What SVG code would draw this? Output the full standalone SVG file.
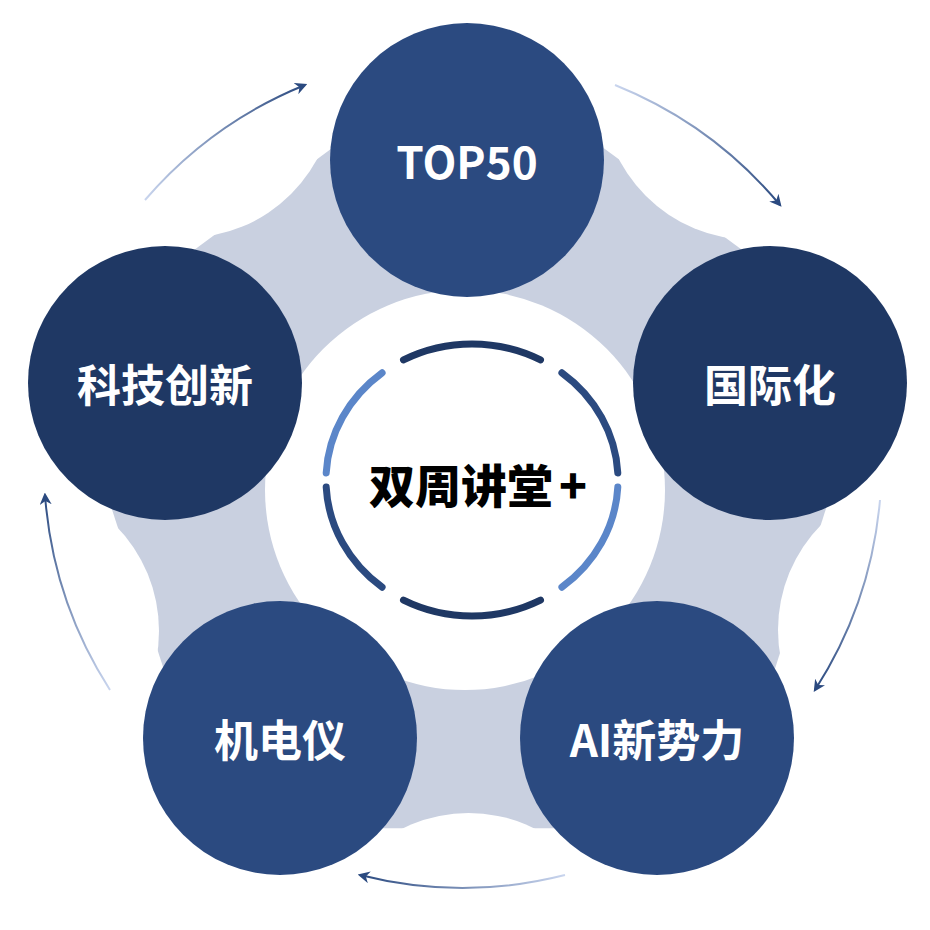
<svg xmlns="http://www.w3.org/2000/svg" width="930" height="930" viewBox="0 0 930 930">
<style>
.nt{font-family:"Noto Sans CJK SC","Liberation Sans",sans-serif;font-weight:bold;font-size:44px;fill:#fff;text-anchor:middle;dominant-baseline:central}
.arc{fill:none;stroke-width:2;marker-end:url(#ah)}
.seg{fill:none;stroke-width:7;stroke-linecap:round}
</style>
<defs>
<marker id="ah" viewBox="0 0 10 10" refX="8" refY="5" markerWidth="6" markerHeight="6" orient="auto" markerUnits="strokeWidth"><path d="M0,0 L10,5 L0,10 L3,5 Z" fill="#2b4a80"/></marker>
<linearGradient id="g1" gradientUnits="userSpaceOnUse" x1="145" y1="200" x2="305" y2="85"><stop offset="0" stop-color="#c9d5ee"/><stop offset="1" stop-color="#2b4a80"/></linearGradient>
<linearGradient id="g2" gradientUnits="userSpaceOnUse" x1="615" y1="85" x2="780" y2="205"><stop offset="0" stop-color="#c9d5ee"/><stop offset="1" stop-color="#2b4a80"/></linearGradient>
<linearGradient id="g3" gradientUnits="userSpaceOnUse" x1="880" y1="500" x2="815" y2="690"><stop offset="0" stop-color="#c9d5ee"/><stop offset="1" stop-color="#2b4a80"/></linearGradient>
<linearGradient id="g4" gradientUnits="userSpaceOnUse" x1="565" y1="875" x2="360" y2="875"><stop offset="0" stop-color="#c9d5ee"/><stop offset="1" stop-color="#2b4a80"/></linearGradient>
<linearGradient id="g5" gradientUnits="userSpaceOnUse" x1="110" y1="690" x2="45" y2="495"><stop offset="0" stop-color="#c9d5ee"/><stop offset="1" stop-color="#2b4a80"/></linearGradient>
</defs>
<rect width="930" height="930" fill="#fff"/>
<g id="background">
<polygon points="467.7,48 876.8,349 724.2,828.3 215.3,828.3 60,349" fill="#c9d0e0"/>
<circle cx="752" cy="90" r="150" fill="#fff"/>
<circle cx="928" cy="630" r="150" fill="#fff"/>
<circle cx="468.5" cy="963" r="150" fill="#fff"/>
<circle cx="9" cy="631" r="150" fill="#fff"/>
<circle cx="185" cy="88" r="150" fill="#fff"/>
<circle cx="465" cy="490" r="200" fill="#fff"/>
</g>
<g id="connectors">
<path class="arc" stroke="url(#g1)" d="M145,200 A418,418 0 0 1 305,85"/>
<path class="arc" stroke="url(#g2)" d="M615,85 A418,418 0 0 1 780,205"/>
<path class="arc" stroke="url(#g3)" d="M880,500 A418,418 0 0 1 815,690"/>
<path class="arc" stroke="url(#g4)" d="M565,875 A418,418 0 0 1 360,875"/>
<path class="arc" stroke="url(#g5)" d="M110,690 A418,418 0 0 1 45,495"/>
</g>
<g id="center">
<path class="seg" stroke="#1f3864" d="M403.5,359.9 A146,136 0 0 1 540.5,359.9"/>
<path class="seg" stroke="#2b4a80" d="M561.9,372.8 A146,136 0 0 1 617.8,472.9"/>
<path class="seg" stroke="#5b86c9" d="M617.8,487.1 A146,136 0 0 1 561.9,587.2"/>
<path class="seg" stroke="#1f3864" d="M540.5,600.1 A146,136 0 0 1 403.5,600.1"/>
<path class="seg" stroke="#2b4a80" d="M382.1,587.2 A146,136 0 0 1 326.2,487.1"/>
<path class="seg" stroke="#5b86c9" d="M326.2,472.9 A146,136 0 0 1 382.1,372.8"/>
<text x="478" y="483" font-family="Noto Sans CJK SC,Liberation Sans,sans-serif" font-weight="900" font-size="46" text-anchor="middle" dominant-baseline="central" fill="#000">双周讲堂<tspan dx="6">+</tspan></text>
</g>
<g id="n1"><circle cx="467" cy="160" r="137" fill="#2b4a80"/><text class="nt" x="467" y="160">TOP50</text></g>
<g id="n2"><circle cx="770" cy="383" r="137" fill="#1f3864"/><text class="nt" x="770" y="383">国际化</text></g>
<g id="n3"><circle cx="657" cy="738" r="137" fill="#2b4a80"/><text class="nt" x="657" y="738">AI新势力</text></g>
<g id="n4"><circle cx="280" cy="738" r="137" fill="#2b4a80"/><text class="nt" x="280" y="738">机电仪</text></g>
<g id="n5"><circle cx="165" cy="383" r="137" fill="#1f3864"/><text class="nt" x="165" y="383">科技创新</text></g>
</svg>
